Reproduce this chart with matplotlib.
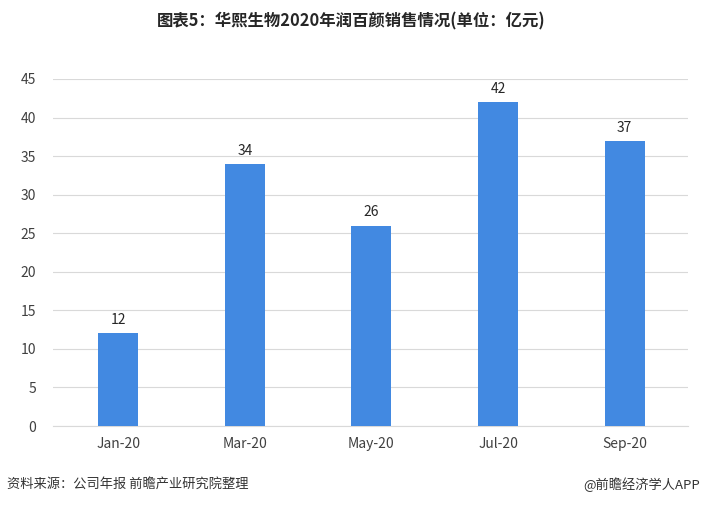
import matplotlib
matplotlib.use("Agg")
import matplotlib.pyplot as plt

plt.rcParams['font.family'] = ['Noto Sans CJK SC', 'DejaVu Sans']

# 数据
months = ["Jan-20", "Mar-20", "May-20", "Jul-20", "Sep-20"]
sales = [12, 34, 26, 42, 37]
y_ticks = [0, 5, 10, 15, 20, 25, 30, 35, 40, 45]

fig = plt.figure(figsize=(7.02, 5.05), dpi=100)
ax = fig.add_axes([0.0755, 0.1564, 0.9045, 0.6872])

x = range(len(months))
bars = ax.bar(x, sales, width=0.315, color="#4289E1", zorder=3)
for xi, v in zip(x, sales):
    ax.text(xi, v + 0.8, str(v), ha="center", va="bottom", fontsize=10, color="#262626")

ax.set_xlim(-0.515, len(months) - 0.5)
ax.set_ylim(0, 45)
ax.set_yticks(y_ticks)
ax.set_xticks(list(x))
ax.set_xticklabels(months)
ax.yaxis.grid(True, color="#D9D9D9", linewidth=0.8, zorder=0)
for s in ["top", "right", "left"]:
    ax.spines[s].set_visible(False)
ax.spines["bottom"].set_color("#D9D9D9")
ax.tick_params(axis="both", length=0, labelsize=10, colors="#404040")
ax.tick_params(axis="y", pad=12)
ax.tick_params(axis="x", pad=8)

fig.text(0.5, 0.957, "图表5：华熙生物2020年润百颜销售情况(单位：亿元)", ha="center", va="center",
         fontsize=11.8, fontweight="bold", color="#262626")
fig.text(0.01, 0.041, "资料来源：公司年报 前瞻产业研究院整理", ha="left", va="center",
         fontsize=9.5, color="#333333")
fig.text(0.997, 0.041, "@前瞻经济学人APP", ha="right", va="center",
         fontsize=9.5, color="#333333")

fig.savefig("out.png", dpi=100)
